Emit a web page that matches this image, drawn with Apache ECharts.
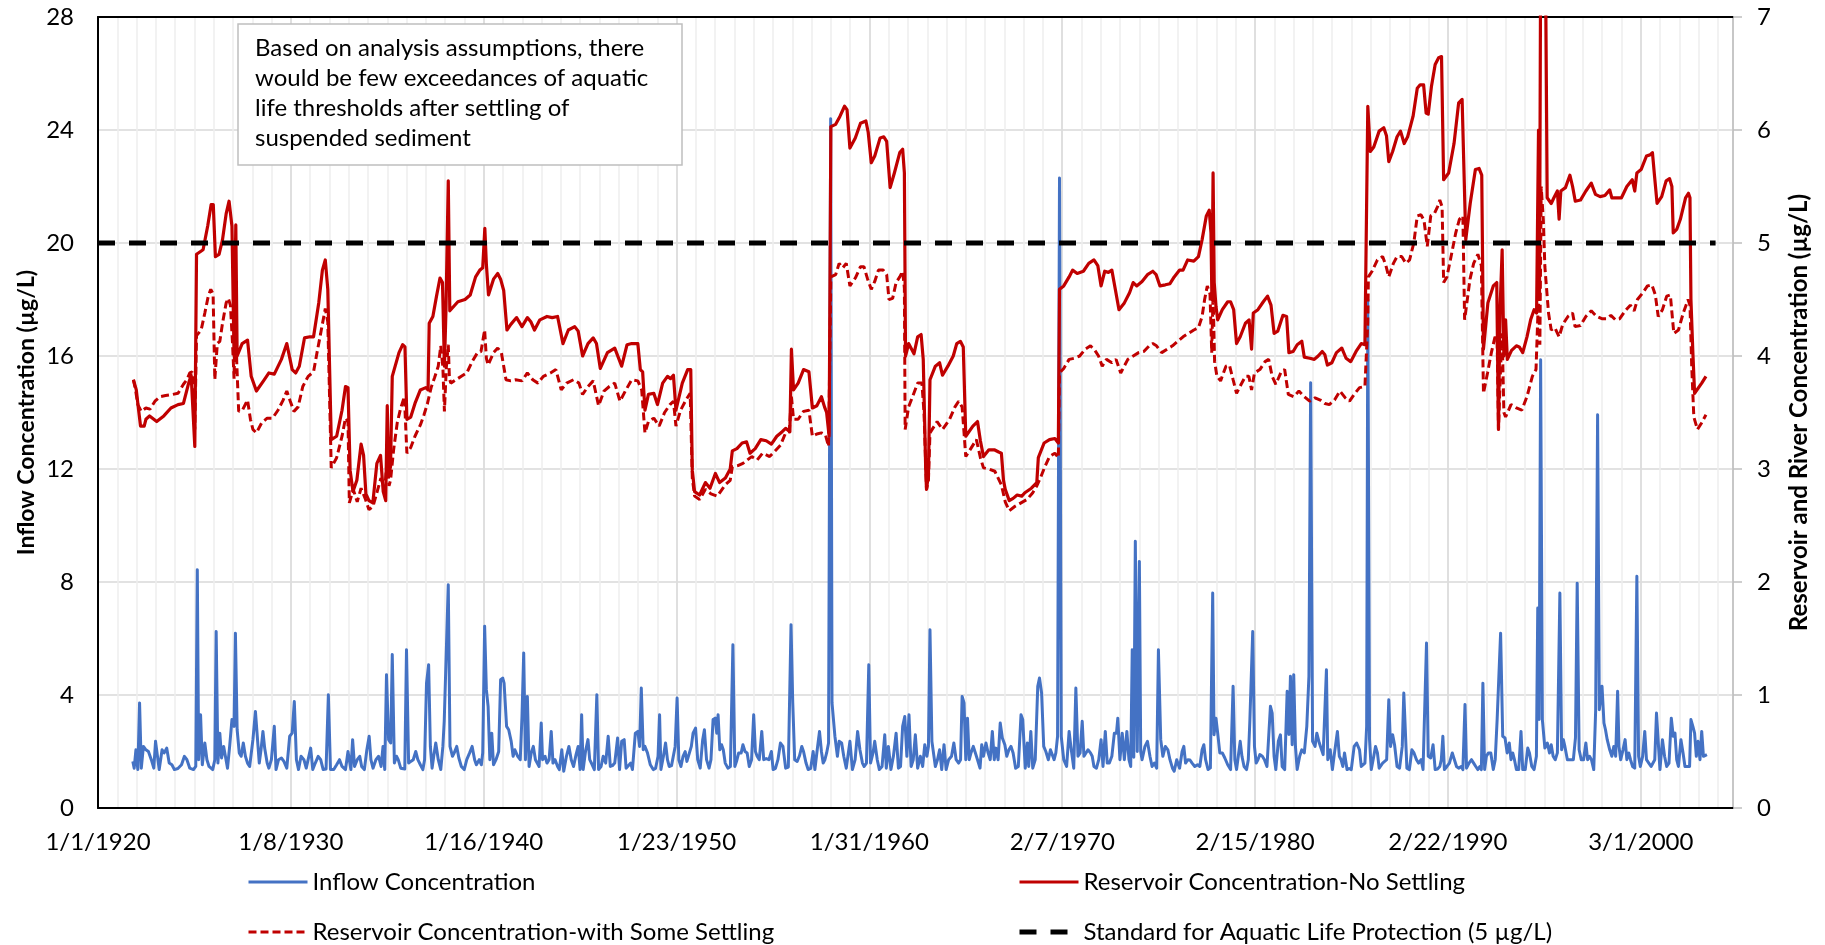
<!DOCTYPE html>
<html><head><meta charset="utf-8">
<script src="https://cdn.jsdelivr.net/npm/echarts@6/dist/echarts.min.js"></script>
<style>html,body{margin:0;padding:0;background:#fff;}#chart{width:1825px;height:945px;}</style>
</head><body><div id="chart"></div>
<script>
// ---- x-axis (days since 1/1/1920) ----
const axisStartYear = 1920;
const majorIntervalDays = 3660;
const minorIntervalDays = 366;
const axisMaxDays = 31030;

// ---- left axis ticks ----
const leftAxisMin = 0, leftAxisMax = 28, leftAxisStep = 4;
// ---- right axis ticks ----
const rightAxisMin = 0, rightAxisMax = 7, rightAxisStep = 1;

const seriesNames = ['Inflow Concentration','Reservoir Concentration-No Settling','Reservoir Concentration-with Some Settling','Standard for Aquatic Life Protection (5 µg/L)'];
const leftAxisTitle = 'Inflow Concentration (µg/L)';
const rightAxisTitle = 'Reservoir and River Concentration (µg/L)';
const noteLines = ['Based on analysis assumptions, there','would be few exceedances of aquatic','life thresholds after settling of','suspended sediment'];

// standard line (right axis value) and its date span (decimal years)
const standardValue = 5;
const standardSpan = [1920.0, 2004.05];

// Inflow concentration [decimal year, µg/L]  (left axis)
const inflow = [[1921.81,1.65],[1921.88,1.41],[1921.97,2.06],[1922.07,1.36],[1922.16,3.72],[1922.25,1.41],[1922.36,2.18],[1922.49,2.06],[1922.62,2.0],[1922.77,1.71],[1922.9,1.41],[1922.99,2.36],[1923.09,2.42],[1923.18,1.36],[1923.33,2.06],[1923.44,1.95],[1923.57,2.12],[1923.7,1.59],[1923.84,1.53],[1923.97,1.36],[1924.15,1.4],[1924.34,1.53],[1924.49,1.83],[1924.62,1.71],[1924.77,1.41],[1924.96,1.36],[1925.08,1.47],[1925.16,8.43],[1925.23,1.71],[1925.33,3.3],[1925.42,1.53],[1925.55,2.3],[1925.66,1.71],[1925.77,1.47],[1925.96,1.36],[1926.07,1.71],[1926.14,6.25],[1926.23,1.59],[1926.33,2.65],[1926.42,1.77],[1926.53,2.18],[1926.62,1.83],[1926.73,1.41],[1926.84,2.18],[1926.96,3.13],[1927.07,2.89],[1927.14,6.19],[1927.23,2.77],[1927.34,1.95],[1927.44,1.83],[1927.55,2.3],[1927.66,1.83],[1927.77,1.59],[1927.88,1.47],[1928.05,2.42],[1928.18,3.42],[1928.27,3.36],[1928.38,1.59],[1928.47,2.06],[1928.57,2.71],[1928.66,2.12],[1928.79,1.59],[1928.88,1.41],[1929.01,1.71],[1929.16,2.89],[1929.25,1.36],[1929.38,1.71],[1929.53,1.77],[1929.66,1.65],[1929.81,1.41],[1929.96,2.54],[1930.09,2.65],[1930.2,3.77],[1930.31,1.71],[1930.42,1.36],[1930.55,1.83],[1930.7,1.71],[1930.82,1.41],[1930.92,1.36],[1931.05,2.12],[1931.16,1.36],[1931.29,1.59],[1931.44,1.83],[1931.57,1.71],[1931.7,1.36],[1931.85,1.38],[1931.97,4.01],[1932.08,1.36],[1932.25,1.36],[1932.4,1.53],[1932.55,1.71],[1932.68,1.47],[1932.86,1.36],[1932.99,2.0],[1933.06,2.0],[1933.14,1.36],[1933.23,2.42],[1933.33,1.47],[1933.47,1.71],[1933.6,1.83],[1933.7,1.47],[1933.84,1.36],[1933.97,2.06],[1934.09,2.54],[1934.18,1.71],[1934.29,1.41],[1934.44,1.71],[1934.58,1.83],[1934.71,1.47],[1934.81,2.18],[1934.9,1.36],[1934.99,4.72],[1935.1,2.42],[1935.21,2.3],[1935.29,5.43],[1935.4,1.59],[1935.51,1.83],[1935.6,1.71],[1935.73,1.41],[1935.83,1.36],[1935.94,1.38],[1936.03,5.6],[1936.14,1.59],[1936.25,1.65],[1936.38,1.71],[1936.51,2.0],[1936.62,1.71],[1936.75,1.53],[1936.88,1.36],[1936.97,1.71],[1937.07,4.42],[1937.18,5.07],[1937.27,2.18],[1937.36,1.41],[1937.47,1.95],[1937.55,2.3],[1937.68,1.71],[1937.81,1.36],[1937.92,2.18],[1937.99,3.07],[1938.08,3.13],[1938.2,7.9],[1938.29,2.18],[1938.42,1.83],[1938.51,1.95],[1938.64,2.18],[1938.75,1.77],[1938.88,1.47],[1939.03,1.36],[1939.16,1.71],[1939.31,1.95],[1939.44,2.18],[1939.57,1.71],[1939.66,1.53],[1939.81,1.71],[1939.92,1.53],[1939.99,1.95],[1940.09,6.43],[1940.18,4.19],[1940.27,3.6],[1940.36,1.71],[1940.46,2.65],[1940.55,1.53],[1940.68,1.71],[1940.82,2.0],[1940.92,4.54],[1941.03,4.6],[1941.1,4.42],[1941.23,2.89],[1941.34,2.77],[1941.47,2.36],[1941.57,1.83],[1941.66,2.06],[1941.81,1.83],[1941.94,1.71],[1942.03,3.24],[1942.12,5.49],[1942.21,1.71],[1942.31,3.95],[1942.4,1.47],[1942.51,1.95],[1942.62,2.18],[1942.73,1.71],[1942.82,1.65],[1942.92,1.47],[1943.03,3.01],[1943.1,1.71],[1943.23,1.83],[1943.33,1.59],[1943.44,1.71],[1943.55,2.71],[1943.64,1.59],[1943.75,1.71],[1943.88,1.47],[1943.97,1.36],[1944.1,2.06],[1944.2,1.3],[1944.34,1.83],[1944.47,2.18],[1944.59,1.71],[1944.71,1.47],[1944.84,1.89],[1944.95,2.18],[1945.05,1.36],[1945.13,3.3],[1945.21,1.36],[1945.33,2.0],[1945.46,2.42],[1945.55,1.71],[1945.68,1.53],[1945.79,1.36],[1945.92,4.01],[1946.01,1.36],[1946.14,1.47],[1946.25,1.83],[1946.38,1.59],[1946.51,2.54],[1946.62,1.47],[1946.73,1.5],[1946.85,1.59],[1947.0,2.48],[1947.1,1.36],[1947.21,2.36],[1947.34,2.42],[1947.44,1.41],[1947.53,1.47],[1947.68,1.59],[1947.77,1.36],[1947.92,2.65],[1948.05,2.71],[1948.14,2.18],[1948.23,4.25],[1948.33,2.06],[1948.42,2.18],[1948.55,1.95],[1948.7,1.53],[1948.85,1.36],[1948.97,1.4],[1949.1,1.83],[1949.18,3.3],[1949.25,1.36],[1949.38,1.83],[1949.49,2.3],[1949.59,1.71],[1949.68,1.47],[1949.8,1.5],[1949.9,1.53],[1949.99,2.18],[1950.09,3.89],[1950.18,1.71],[1950.29,1.47],[1950.4,1.83],[1950.51,2.0],[1950.6,1.65],[1950.7,1.59],[1950.83,2.18],[1950.92,2.65],[1951.05,2.83],[1951.16,1.71],[1951.29,1.41],[1951.42,2.42],[1951.51,2.77],[1951.62,1.71],[1951.75,1.41],[1951.85,1.71],[1951.96,3.13],[1952.07,3.18],[1952.15,2.65],[1952.22,3.3],[1952.31,2.06],[1952.4,2.24],[1952.49,2.06],[1952.59,1.59],[1952.73,1.41],[1952.86,1.47],[1952.99,5.78],[1953.09,1.47],[1953.18,1.65],[1953.29,1.95],[1953.42,1.95],[1953.51,2.24],[1953.62,2.0],[1953.73,1.95],[1953.84,1.47],[1953.96,1.71],[1954.07,3.3],[1954.16,2.0],[1954.25,1.83],[1954.36,1.71],[1954.49,2.71],[1954.59,1.71],[1954.72,1.75],[1954.86,1.71],[1954.99,2.0],[1955.08,1.36],[1955.2,1.4],[1955.33,1.71],[1955.46,2.3],[1955.59,2.18],[1955.73,1.41],[1955.87,1.45],[1956.01,6.49],[1956.1,3.72],[1956.2,1.71],[1956.33,1.65],[1956.45,1.85],[1956.57,2.18],[1956.66,2.0],[1956.79,1.59],[1956.9,1.36],[1957.03,1.4],[1957.16,2.0],[1957.25,1.36],[1957.36,2.0],[1957.49,2.71],[1957.59,2.0],[1957.68,1.59],[1957.77,1.71],[1957.86,1.95],[1957.96,2.3],[1958.07,24.4],[1958.14,3.72],[1958.29,2.54],[1958.42,1.83],[1958.51,2.36],[1958.64,2.3],[1958.75,1.83],[1958.88,1.41],[1958.97,1.36],[1959.07,2.36],[1959.2,1.36],[1959.34,1.71],[1959.47,2.71],[1959.59,2.06],[1959.72,1.59],[1959.81,1.47],[1959.93,1.59],[1960.05,5.07],[1960.14,1.59],[1960.27,1.95],[1960.36,2.36],[1960.49,1.71],[1960.6,1.36],[1960.74,1.47],[1960.88,2.59],[1960.96,1.41],[1961.07,2.18],[1961.2,1.36],[1961.33,1.83],[1961.47,2.65],[1961.59,1.41],[1961.7,1.47],[1961.81,2.89],[1961.92,3.24],[1962.03,1.83],[1962.14,3.3],[1962.25,1.47],[1962.36,1.71],[1962.47,2.59],[1962.59,1.41],[1962.73,1.83],[1962.85,1.47],[1962.96,2.24],[1963.07,1.83],[1963.15,2.18],[1963.23,6.31],[1963.33,2.36],[1963.42,2.42],[1963.51,1.47],[1963.62,1.71],[1963.73,2.06],[1963.84,1.36],[1963.96,2.24],[1964.07,1.36],[1964.2,1.71],[1964.35,1.83],[1964.47,2.3],[1964.59,1.71],[1964.72,1.59],[1964.82,1.71],[1964.9,3.95],[1965.0,3.72],[1965.09,1.71],[1965.18,3.18],[1965.27,1.71],[1965.36,1.95],[1965.48,2.18],[1965.59,1.95],[1965.7,1.71],[1965.83,1.41],[1965.92,2.24],[1966.01,1.83],[1966.14,2.3],[1966.25,1.95],[1966.36,1.71],[1966.47,2.71],[1966.57,1.71],[1966.66,2.12],[1966.77,1.71],[1966.88,3.01],[1966.99,2.48],[1967.12,2.24],[1967.22,1.83],[1967.33,2.06],[1967.44,2.18],[1967.55,1.95],[1967.68,1.41],[1967.82,1.47],[1967.96,3.3],[1968.05,3.13],[1968.18,1.41],[1968.29,2.3],[1968.36,1.47],[1968.47,2.71],[1968.57,1.41],[1968.7,1.71],[1968.83,4.31],[1968.92,4.6],[1969.03,4.07],[1969.14,2.18],[1969.25,2.0],[1969.38,1.71],[1969.49,2.06],[1969.58,2.06],[1969.68,1.71],[1969.77,1.95],[1969.86,2.54],[1969.96,22.3],[1970.05,2.54],[1970.18,1.71],[1970.33,1.47],[1970.46,2.71],[1970.55,2.18],[1970.7,1.41],[1970.81,4.25],[1970.92,1.83],[1971.03,1.95],[1971.14,3.07],[1971.23,1.83],[1971.33,1.83],[1971.44,2.06],[1971.57,1.95],[1971.66,1.83],[1971.75,1.47],[1971.88,1.41],[1972.0,1.71],[1972.12,2.42],[1972.22,1.47],[1972.34,2.71],[1972.44,1.59],[1972.55,1.59],[1972.68,1.83],[1972.81,2.65],[1972.92,2.65],[1972.99,3.18],[1973.1,1.71],[1973.22,2.65],[1973.33,1.71],[1973.46,2.71],[1973.57,1.71],[1973.66,1.47],[1973.74,5.6],[1973.82,1.8],[1973.9,9.44],[1974.0,2.0],[1974.11,8.73],[1974.18,2.0],[1974.25,1.71],[1974.4,2.18],[1974.53,2.36],[1974.66,1.83],[1974.77,1.47],[1974.89,1.59],[1975.01,1.41],[1975.1,5.6],[1975.22,2.42],[1975.33,1.83],[1975.46,2.18],[1975.59,2.06],[1975.7,1.71],[1975.83,1.41],[1975.92,1.3],[1976.05,1.71],[1976.2,1.41],[1976.33,2.0],[1976.42,2.18],[1976.51,1.59],[1976.63,1.71],[1976.74,1.7],[1976.85,1.59],[1976.99,1.47],[1977.13,1.53],[1977.25,1.47],[1977.37,2.06],[1977.46,2.24],[1977.55,1.71],[1977.68,1.36],[1977.8,1.42],[1977.92,7.61],[1977.99,2.59],[1978.09,3.18],[1978.18,2.65],[1978.29,1.95],[1978.42,1.95],[1978.55,1.77],[1978.7,1.53],[1978.85,1.36],[1978.98,4.31],[1979.07,1.71],[1979.16,1.36],[1979.25,1.83],[1979.35,2.36],[1979.44,1.83],[1979.55,1.47],[1979.68,1.36],[1979.77,1.71],[1979.85,3.07],[1979.92,3.07],[1980.0,6.25],[1980.09,2.18],[1980.18,1.59],[1980.27,1.71],[1980.37,1.89],[1980.5,1.83],[1980.61,1.71],[1980.74,1.47],[1980.83,1.41],[1980.92,3.6],[1981.01,3.36],[1981.11,1.83],[1981.2,1.36],[1981.33,2.36],[1981.44,2.59],[1981.53,1.47],[1981.66,1.36],[1981.79,4.13],[1981.88,2.6],[1981.96,4.66],[1982.05,2.24],[1982.13,4.72],[1982.22,2.18],[1982.31,1.36],[1982.44,1.83],[1982.55,2.06],[1982.68,1.95],[1982.81,2.89],[1982.92,4.66],[1983.01,15.05],[1983.11,2.36],[1983.24,2.18],[1983.33,2.65],[1983.46,2.3],[1983.55,2.24],[1983.66,1.89],[1983.75,1.83],[1983.83,4.89],[1983.9,1.71],[1984.03,2.06],[1984.14,1.36],[1984.25,1.95],[1984.4,2.71],[1984.5,1.83],[1984.59,1.71],[1984.68,1.47],[1984.77,1.95],[1984.9,1.36],[1985.01,1.4],[1985.12,1.36],[1985.27,2.18],[1985.4,2.3],[1985.55,2.06],[1985.64,1.47],[1985.74,1.41],[1985.83,1.59],[1985.92,2.89],[1985.98,18.0],[1986.07,2.42],[1986.16,1.36],[1986.29,1.83],[1986.38,2.18],[1986.48,1.95],[1986.57,1.41],[1986.66,1.45],[1986.75,1.59],[1986.85,1.59],[1986.96,1.71],[1987.07,3.83],[1987.16,2.18],[1987.27,2.59],[1987.37,2.24],[1987.5,1.47],[1987.63,1.41],[1987.77,2.18],[1987.85,4.07],[1987.92,4.07],[1988.01,1.41],[1988.14,1.36],[1988.27,2.06],[1988.38,1.95],[1988.51,1.71],[1988.62,1.59],[1988.75,1.71],[1988.85,1.36],[1988.94,1.38],[1989.03,5.84],[1989.12,1.83],[1989.25,1.77],[1989.37,2.24],[1989.48,1.36],[1989.6,1.38],[1989.72,1.47],[1989.8,1.71],[1989.88,2.54],[1989.96,1.36],[1990.09,1.47],[1990.22,1.59],[1990.37,1.95],[1990.48,1.71],[1990.59,1.47],[1990.7,1.41],[1990.83,1.47],[1990.92,1.36],[1991.03,3.66],[1991.11,1.41],[1991.24,1.59],[1991.37,1.71],[1991.48,1.59],[1991.59,1.47],[1991.7,1.36],[1991.8,1.47],[1991.88,1.36],[1991.96,4.42],[1992.05,1.36],[1992.14,1.83],[1992.25,1.95],[1992.37,1.95],[1992.5,1.36],[1992.6,1.71],[1992.7,3.13],[1992.78,3.13],[1992.88,6.19],[1992.99,2.54],[1993.11,2.48],[1993.22,1.95],[1993.33,2.3],[1993.42,1.71],[1993.51,1.95],[1993.6,1.71],[1993.7,1.36],[1993.82,1.36],[1993.94,2.71],[1994.03,1.36],[1994.16,1.36],[1994.29,2.12],[1994.38,1.95],[1994.5,1.47],[1994.62,1.36],[1994.74,1.83],[1994.81,7.08],[1994.88,3.13],[1994.96,15.87],[1995.05,3.13],[1995.18,2.12],[1995.31,2.3],[1995.42,1.95],[1995.51,2.24],[1995.61,1.83],[1995.72,1.71],[1995.83,1.95],[1995.96,7.61],[1996.05,2.06],[1996.14,2.42],[1996.22,2.18],[1996.35,1.71],[1996.44,1.77],[1996.53,1.71],[1996.66,1.71],[1996.77,2.48],[1996.86,7.96],[1996.96,2.06],[1997.07,1.71],[1997.19,1.71],[1997.31,2.3],[1997.4,1.71],[1997.5,1.83],[1997.6,1.71],[1997.72,1.36],[1997.82,3.48],[1997.92,13.92],[1998.01,3.48],[1998.15,4.31],[1998.25,3.01],[1998.33,2.77],[1998.42,2.42],[1998.55,2.06],[1998.66,1.83],[1998.76,2.18],[1998.86,1.83],[1998.96,4.13],[1999.03,2.18],[1999.12,1.71],[1999.24,2.06],[1999.35,2.42],[1999.44,1.71],[1999.54,1.95],[1999.63,1.71],[1999.74,1.47],[1999.85,1.41],[1999.96,8.2],[2000.05,1.83],[2000.14,1.47],[2000.26,1.83],[2000.37,2.71],[2000.46,1.71],[2000.58,1.59],[2000.7,1.47],[2000.8,1.47],[2000.89,1.71],[2000.98,3.36],[2001.07,3.42],[2001.16,1.36],[2001.29,2.42],[2001.4,1.83],[2001.51,1.47],[2001.63,1.59],[2001.75,3.18],[2001.85,2.54],[2001.94,2.65],[2002.03,1.71],[2002.12,1.47],[2002.25,2.42],[2002.36,1.95],[2002.46,1.47],[2002.58,1.47],[2002.7,1.47],[2002.77,3.13],[2002.87,2.89],[2002.96,2.65],[2003.05,1.83],[2003.14,2.36],[2003.24,1.71],[2003.33,2.71],[2003.42,1.83],[2003.51,1.89],[2003.6,1.89]];

// Reservoir concentration, no settling [decimal year, µg/L]  (right axis)
const noSettling = [[1921.84,3.79],[1921.99,3.7],[1922.09,3.55],[1922.21,3.38],[1922.4,3.38],[1922.49,3.44],[1922.68,3.47],[1922.77,3.48],[1923.05,3.42],[1923.42,3.47],[1923.79,3.54],[1924.16,3.57],[1924.44,3.58],[1924.71,3.76],[1924.84,3.83],[1925.03,3.2],[1925.12,4.9],[1925.46,4.94],[1925.7,5.15],[1925.88,5.34],[1925.99,5.34],[1926.1,4.88],[1926.29,4.9],[1926.47,5.03],[1926.66,5.26],[1926.81,5.37],[1926.96,5.15],[1927.07,4.0],[1927.16,5.16],[1927.23,4.0],[1927.49,4.11],[1927.77,4.14],[1927.96,3.82],[1928.23,3.69],[1928.6,3.78],[1928.88,3.85],[1929.16,3.84],[1929.53,3.97],[1929.81,4.11],[1930.09,3.88],[1930.27,3.85],[1930.46,3.91],[1930.73,4.16],[1931.01,4.17],[1931.2,4.17],[1931.47,4.47],[1931.66,4.76],[1931.81,4.85],[1931.94,4.59],[1932.12,3.26],[1932.4,3.29],[1932.68,3.52],[1932.86,3.73],[1932.99,3.72],[1933.1,2.99],[1933.25,2.8],[1933.45,2.9],[1933.67,3.22],[1933.8,3.12],[1933.92,2.78],[1934.08,2.72],[1934.28,2.7],[1934.49,3.05],[1934.68,3.12],[1934.82,2.8],[1934.95,2.72],[1935.03,3.56],[1935.1,2.95],[1935.2,3.02],[1935.29,3.82],[1935.64,4.03],[1935.83,4.1],[1935.95,4.08],[1936.05,3.44],[1936.25,3.46],[1936.47,3.58],[1936.75,3.7],[1937.03,3.72],[1937.15,3.7],[1937.21,4.29],[1937.4,4.35],[1937.59,4.53],[1937.77,4.69],[1937.9,4.65],[1938.0,3.91],[1938.08,4.4],[1938.2,5.55],[1938.28,4.4],[1938.33,4.41],[1938.7,4.48],[1939.07,4.5],[1939.34,4.54],[1939.62,4.7],[1939.84,4.76],[1939.99,4.78],[1940.1,5.13],[1940.18,4.81],[1940.29,4.54],[1940.55,4.68],[1940.77,4.73],[1940.92,4.68],[1941.08,4.58],[1941.25,4.23],[1941.45,4.28],[1941.75,4.34],[1942.03,4.26],[1942.31,4.34],[1942.5,4.3],[1942.68,4.23],[1942.96,4.32],[1943.33,4.35],[1943.6,4.34],[1943.88,4.35],[1944.16,4.11],[1944.44,4.23],[1944.77,4.26],[1944.95,4.22],[1945.18,4.0],[1945.46,4.11],[1945.73,4.16],[1945.9,4.11],[1946.1,3.89],[1946.47,4.03],[1946.85,4.07],[1947.21,3.91],[1947.49,4.1],[1947.73,4.11],[1948.05,4.11],[1948.18,3.88],[1948.3,3.86],[1948.42,3.52],[1948.6,3.66],[1948.88,3.67],[1949.07,3.57],[1949.34,3.76],[1949.59,3.82],[1949.75,3.8],[1949.9,3.83],[1950.03,3.52],[1950.36,3.76],[1950.64,3.88],[1950.8,3.88],[1950.88,2.99],[1951.0,2.8],[1951.26,2.77],[1951.56,2.88],[1951.8,2.83],[1952.08,2.96],[1952.3,2.88],[1952.6,2.92],[1952.85,3.0],[1952.96,3.16],[1953.2,3.18],[1953.47,3.23],[1953.7,3.24],[1953.88,3.14],[1954.15,3.18],[1954.44,3.26],[1954.72,3.25],[1954.99,3.22],[1955.27,3.29],[1955.55,3.33],[1955.73,3.36],[1955.95,3.33],[1956.03,4.06],[1956.14,3.7],[1956.38,3.76],[1956.66,3.88],[1956.94,3.86],[1957.12,3.54],[1957.35,3.56],[1957.59,3.64],[1957.75,3.55],[1957.86,3.5],[1957.99,3.29],[1958.08,6.03],[1958.33,6.05],[1958.55,6.12],[1958.79,6.21],[1958.92,6.18],[1959.07,5.84],[1959.35,5.93],[1959.62,6.06],[1959.9,6.08],[1960.02,5.98],[1960.18,5.71],[1960.36,5.77],[1960.64,5.93],[1960.83,5.94],[1960.98,5.9],[1961.16,5.49],[1961.38,5.62],[1961.66,5.8],[1961.81,5.83],[1961.9,5.62],[1961.96,4.0],[1962.12,4.11],[1962.4,4.02],[1962.59,4.17],[1962.77,4.19],[1962.88,3.97],[1963.01,2.99],[1963.05,2.82],[1963.15,2.95],[1963.23,3.79],[1963.51,3.91],[1963.73,3.94],[1963.88,3.83],[1964.16,3.91],[1964.44,4.0],[1964.62,4.11],[1964.81,4.13],[1964.96,4.08],[1965.09,3.29],[1965.46,3.38],[1965.7,3.42],[1965.85,3.25],[1966.01,3.11],[1966.29,3.17],[1966.57,3.17],[1966.8,3.15],[1966.94,3.14],[1967.05,2.9],[1967.14,2.82],[1967.35,2.72],[1967.55,2.74],[1967.76,2.77],[1968.0,2.76],[1968.16,2.79],[1968.5,2.83],[1968.78,2.88],[1968.86,3.1],[1969.16,3.23],[1969.44,3.26],[1969.72,3.27],[1969.9,3.23],[1969.96,4.59],[1970.18,4.62],[1970.46,4.7],[1970.64,4.76],[1970.88,4.73],[1971.2,4.75],[1971.48,4.82],[1971.75,4.85],[1971.95,4.8],[1972.12,4.62],[1972.31,4.75],[1972.5,4.74],[1972.68,4.76],[1972.86,4.59],[1973.05,4.41],[1973.33,4.47],[1973.6,4.56],[1973.79,4.65],[1973.97,4.62],[1974.25,4.66],[1974.53,4.72],[1974.81,4.75],[1974.98,4.72],[1975.18,4.62],[1975.46,4.63],[1975.7,4.64],[1975.92,4.7],[1976.2,4.76],[1976.38,4.76],[1976.62,4.85],[1976.94,4.84],[1977.18,4.88],[1977.37,5.03],[1977.59,5.24],[1977.74,5.29],[1977.83,5.09],[1977.88,4.5],[1977.94,5.62],[1978.0,4.65],[1978.09,4.44],[1978.18,4.32],[1978.42,4.41],[1978.7,4.48],[1978.85,4.48],[1979.01,4.41],[1979.16,4.11],[1979.35,4.17],[1979.62,4.29],[1979.81,4.32],[1979.94,4.06],[1980.03,4.38],[1980.27,4.41],[1980.55,4.48],[1980.77,4.53],[1980.95,4.45],[1981.11,4.2],[1981.3,4.22],[1981.57,4.36],[1981.76,4.35],[1981.88,4.03],[1982.1,4.04],[1982.31,4.1],[1982.55,4.13],[1982.68,3.99],[1982.96,3.98],[1983.2,3.97],[1983.4,4.0],[1983.61,4.04],[1983.75,4.01],[1983.88,3.92],[1984.11,3.94],[1984.35,4.03],[1984.63,4.07],[1984.85,3.98],[1985.09,3.95],[1985.37,4.04],[1985.64,4.11],[1985.83,4.1],[1985.98,6.21],[1986.11,5.81],[1986.29,5.85],[1986.57,5.99],[1986.81,6.02],[1986.95,5.95],[1987.07,5.72],[1987.27,5.81],[1987.5,5.94],[1987.68,5.99],[1987.87,5.88],[1988.05,5.94],[1988.33,6.12],[1988.55,6.37],[1988.7,6.4],[1988.88,6.4],[1989.01,6.15],[1989.12,6.14],[1989.29,6.39],[1989.48,6.58],[1989.66,6.64],[1989.81,6.65],[1989.92,5.56],[1990.18,5.62],[1990.46,5.88],[1990.7,6.24],[1990.88,6.27],[1990.98,6.26],[1991.07,5.03],[1991.3,5.35],[1991.57,5.65],[1991.76,5.66],[1991.9,5.6],[1991.99,4.06],[1992.22,4.47],[1992.5,4.62],[1992.68,4.65],[1992.77,3.35],[1992.85,4.4],[1992.96,4.94],[1993.05,4.0],[1993.14,4.32],[1993.23,3.97],[1993.45,4.05],[1993.7,4.09],[1993.85,4.08],[1994.03,4.03],[1994.25,4.17],[1994.44,4.32],[1994.62,4.41],[1994.75,4.38],[1994.85,6.0],[1994.9,4.5],[1994.96,7.5],[1995.1,7.8],[1995.22,7.3],[1995.3,5.4],[1995.51,5.35],[1995.65,5.4],[1995.83,5.46],[1995.92,5.21],[1996.01,5.46],[1996.25,5.49],[1996.48,5.6],[1996.62,5.5],[1996.76,5.37],[1997.03,5.38],[1997.31,5.46],[1997.59,5.53],[1997.81,5.43],[1998.05,5.41],[1998.3,5.42],[1998.55,5.47],[1998.66,5.4],[1998.92,5.4],[1999.16,5.4],[1999.44,5.5],[1999.72,5.56],[1999.85,5.46],[1999.96,5.62],[2000.18,5.65],[2000.46,5.77],[2000.64,5.78],[2000.77,5.8],[2000.88,5.59],[2001.01,5.35],[2001.25,5.41],[2001.48,5.55],[2001.66,5.57],[2001.78,5.5],[2001.85,5.09],[2002.03,5.12],[2002.22,5.21],[2002.49,5.4],[2002.64,5.44],[2002.72,5.4],[2002.77,4.5],[2002.87,4.03],[2002.96,3.67],[2003.05,3.66],[2003.33,3.76],[2003.55,3.82]];

// Reservoir concentration, with some settling [decimal year, µg/L]  (right axis)
const someSettling = [[1921.84,3.79],[1921.95,3.7],[1922.07,3.57],[1922.25,3.51],[1922.49,3.54],[1922.7,3.53],[1922.96,3.6],[1923.23,3.64],[1923.51,3.65],[1923.88,3.66],[1924.16,3.67],[1924.44,3.75],[1924.62,3.79],[1924.77,3.85],[1924.9,3.86],[1925.03,3.35],[1925.12,4.18],[1925.36,4.23],[1925.55,4.38],[1925.73,4.53],[1925.86,4.59],[1925.98,4.55],[1926.07,3.79],[1926.2,4.11],[1926.33,4.13],[1926.47,4.29],[1926.66,4.47],[1926.77,4.51],[1926.88,4.45],[1926.99,4.11],[1927.07,3.8],[1927.14,4.45],[1927.21,3.94],[1927.31,3.51],[1927.5,3.52],[1927.77,3.61],[1927.92,3.44],[1928.05,3.35],[1928.23,3.32],[1928.51,3.41],[1928.79,3.45],[1929.07,3.45],[1929.35,3.52],[1929.62,3.61],[1929.81,3.69],[1929.99,3.6],[1930.18,3.51],[1930.4,3.55],[1930.64,3.73],[1930.92,3.82],[1931.2,3.86],[1931.38,4.03],[1931.57,4.2],[1931.81,4.42],[1931.94,4.3],[1932.12,3.01],[1932.4,3.1],[1932.68,3.29],[1932.86,3.45],[1932.99,3.42],[1933.06,2.7],[1933.26,2.82],[1933.47,2.71],[1933.67,2.83],[1933.88,2.74],[1934.08,2.64],[1934.29,2.67],[1934.49,2.79],[1934.7,2.92],[1934.9,2.82],[1935.03,3.1],[1935.12,2.85],[1935.2,2.9],[1935.36,3.17],[1935.55,3.41],[1935.73,3.54],[1935.92,3.64],[1936.05,3.14],[1936.25,3.19],[1936.47,3.29],[1936.75,3.39],[1936.94,3.48],[1937.12,3.58],[1937.31,3.72],[1937.49,3.81],[1937.68,3.91],[1937.81,4.09],[1937.92,3.9],[1938.0,3.51],[1938.1,3.9],[1938.2,4.1],[1938.26,3.8],[1938.33,3.76],[1938.6,3.79],[1938.88,3.82],[1939.16,3.85],[1939.44,3.95],[1939.72,4.03],[1939.9,4.04],[1940.09,4.23],[1940.18,3.98],[1940.27,3.92],[1940.55,4.03],[1940.77,4.07],[1940.96,4.03],[1941.2,3.79],[1941.45,3.78],[1941.7,3.79],[1942.03,3.78],[1942.31,3.85],[1942.59,3.79],[1942.86,3.76],[1943.14,3.82],[1943.51,3.85],[1943.79,3.88],[1944.07,3.7],[1944.35,3.76],[1944.71,3.79],[1944.99,3.76],[1945.18,3.66],[1945.46,3.73],[1945.73,3.78],[1946.01,3.56],[1946.29,3.69],[1946.57,3.73],[1946.85,3.76],[1947.12,3.6],[1947.4,3.69],[1947.73,3.79],[1948.05,3.78],[1948.25,3.7],[1948.42,3.32],[1948.6,3.42],[1948.88,3.45],[1949.16,3.38],[1949.44,3.5],[1949.72,3.57],[1949.9,3.6],[1950.03,3.38],[1950.27,3.52],[1950.55,3.61],[1950.77,3.67],[1950.88,2.92],[1951.0,2.76],[1951.26,2.73],[1951.56,2.82],[1951.85,2.78],[1952.18,2.76],[1952.59,2.86],[1952.85,2.9],[1952.96,3.02],[1953.25,3.03],[1953.51,3.05],[1953.97,3.11],[1954.25,3.08],[1954.53,3.14],[1954.9,3.11],[1955.18,3.16],[1955.46,3.21],[1955.73,3.32],[1955.92,3.33],[1956.03,3.64],[1956.14,3.44],[1956.38,3.44],[1956.66,3.51],[1956.94,3.52],[1957.12,3.29],[1957.35,3.31],[1957.59,3.32],[1957.8,3.3],[1957.96,3.2],[1958.08,4.7],[1958.33,4.72],[1958.51,4.82],[1958.7,4.78],[1958.88,4.82],[1959.07,4.62],[1959.35,4.69],[1959.62,4.79],[1959.8,4.79],[1959.99,4.68],[1960.18,4.59],[1960.36,4.66],[1960.55,4.76],[1960.8,4.76],[1960.98,4.72],[1961.1,4.5],[1961.29,4.51],[1961.47,4.65],[1961.66,4.7],[1961.81,4.75],[1961.9,4.6],[1961.94,3.35],[1962.12,3.55],[1962.35,3.65],[1962.59,3.76],[1962.81,3.76],[1962.92,3.5],[1963.05,2.82],[1963.15,2.9],[1963.23,3.32],[1963.6,3.42],[1963.88,3.35],[1964.25,3.44],[1964.53,3.55],[1964.72,3.6],[1964.9,3.55],[1965.09,3.11],[1965.35,3.18],[1965.64,3.26],[1965.85,3.1],[1966.01,3.01],[1966.3,3.0],[1966.6,2.98],[1966.94,2.86],[1967.14,2.71],[1967.35,2.63],[1967.65,2.67],[1967.96,2.7],[1968.27,2.73],[1968.57,2.79],[1968.78,2.85],[1968.99,2.93],[1969.2,3.02],[1969.44,3.11],[1969.72,3.14],[1969.9,3.1],[1969.96,3.85],[1970.18,3.89],[1970.46,3.97],[1970.73,3.98],[1971.01,4.0],[1971.29,4.06],[1971.57,4.09],[1971.8,4.05],[1971.99,4.0],[1972.18,3.91],[1972.4,3.97],[1972.68,3.94],[1972.9,3.97],[1973.14,3.85],[1973.51,3.97],[1973.79,4.0],[1974.07,4.03],[1974.34,4.04],[1974.62,4.09],[1974.81,4.11],[1975.0,4.09],[1975.27,4.03],[1975.55,4.06],[1975.83,4.09],[1976.1,4.13],[1976.38,4.17],[1976.66,4.2],[1976.94,4.23],[1977.18,4.25],[1977.37,4.35],[1977.5,4.5],[1977.64,4.62],[1977.78,4.55],[1977.87,4.03],[1977.94,4.55],[1978.02,3.95],[1978.14,3.82],[1978.33,3.78],[1978.61,3.91],[1978.79,3.92],[1978.98,3.79],[1979.16,3.67],[1979.4,3.75],[1979.62,3.82],[1979.8,3.82],[1979.94,3.7],[1980.09,3.85],[1980.37,3.88],[1980.64,3.95],[1980.83,3.97],[1981.01,3.82],[1981.2,3.75],[1981.48,3.86],[1981.66,3.88],[1981.85,3.66],[1982.13,3.64],[1982.4,3.69],[1982.68,3.64],[1982.96,3.6],[1983.24,3.63],[1983.51,3.61],[1983.75,3.58],[1983.98,3.57],[1984.25,3.61],[1984.53,3.69],[1984.81,3.63],[1985.03,3.6],[1985.27,3.66],[1985.55,3.72],[1985.83,3.73],[1985.98,4.3],[1986.01,4.7],[1986.2,4.75],[1986.48,4.85],[1986.75,4.88],[1986.92,4.8],[1987.07,4.7],[1987.31,4.82],[1987.5,4.88],[1987.74,4.88],[1987.96,4.82],[1988.15,4.85],[1988.37,5.0],[1988.55,5.24],[1988.74,5.25],[1988.9,5.2],[1989.07,4.97],[1989.25,5.24],[1989.44,5.26],[1989.6,5.32],[1989.72,5.38],[1989.84,5.32],[1989.92,4.65],[1990.09,4.7],[1990.27,4.85],[1990.55,5.09],[1990.74,5.21],[1990.92,5.24],[1991.01,4.32],[1991.29,4.68],[1991.48,4.82],[1991.7,4.9],[1991.88,4.8],[1991.99,3.67],[1992.2,3.85],[1992.4,4.03],[1992.59,4.17],[1992.7,4.14],[1992.77,3.35],[1992.88,3.9],[1992.96,4.2],[1993.05,3.5],[1993.14,3.46],[1993.42,3.57],[1993.7,3.54],[1993.98,3.52],[1994.25,3.64],[1994.53,3.82],[1994.72,3.88],[1994.85,4.53],[1994.92,4.1],[1994.99,5.5],[1995.1,5.2],[1995.18,4.79],[1995.37,4.38],[1995.51,4.23],[1995.7,4.25],[1995.92,4.17],[1996.11,4.28],[1996.38,4.35],[1996.62,4.38],[1996.75,4.26],[1997.03,4.27],[1997.31,4.35],[1997.59,4.4],[1997.87,4.35],[1998.14,4.33],[1998.4,4.33],[1998.61,4.36],[1998.85,4.32],[1999.07,4.33],[1999.35,4.4],[1999.62,4.45],[1999.82,4.4],[1999.99,4.5],[2000.27,4.56],[2000.51,4.62],[2000.74,4.63],[2000.92,4.54],[2001.07,4.35],[2001.29,4.41],[2001.51,4.53],[2001.7,4.54],[2001.88,4.2],[2002.12,4.23],[2002.37,4.38],[2002.62,4.5],[2002.72,4.45],[2002.81,3.91],[2002.92,3.46],[2003.11,3.35],[2003.33,3.41],[2003.55,3.48]];

// ---- helpers ----
const toDays = y => (y - axisStartYear) * 365.25;
const toXY = arr => arr.map(p => [toDays(p[0]), p[1]]);
function fmtDate(d) {
  const t = new Date(Date.UTC(axisStartYear, 0, 1) + Math.round(d) * 86400000);
  return (t.getUTCMonth() + 1) + '/' + t.getUTCDate() + '/' + t.getUTCFullYear();
}
const FONT = 'Lato';
const TXT = {fontFamily: FONT, fontSize: 24, color: '#000'};
const BLUE = '#4472C4', RED = '#C00000', BLACK = '#000000';
const legendBase = {orient: 'vertical', top: 870, height: 110, itemWidth: 59, itemHeight: 14, itemGap: 26,
  selectedMode: false, textStyle: TXT, itemStyle: {opacity: 0}, padding: 0};

const chart = echarts.init(document.getElementById('chart'), null, {renderer: 'canvas'});
chart.setOption({
  animation: false,
  backgroundColor: '#ffffff',
  textStyle: {fontFamily: FONT},
  grid: {left: 98, right: 92, top: 17, bottom: 137, containLabel: false, outerBoundsMode: 'none'},
  legend: [
    Object.assign({}, legendBase, {left: 247, data: [
      {name: seriesNames[0], lineStyle: {color: BLUE, width: 3, type: 'solid'}},
      {name: seriesNames[2], lineStyle: {color: RED, width: 3, type: [8, 4]}}
    ]}),
    Object.assign({}, legendBase, {left: 1017, data: [
      {name: seriesNames[1], lineStyle: {color: RED, width: 3, type: 'solid'}},
      {name: seriesNames[3], lineStyle: {color: BLACK, width: 5, type: [17, 14]}}
    ]})
  ],
  xAxis: [
    { // yearly minor gridlines
      type: 'value', min: 0, max: axisMaxDays, interval: minorIntervalDays, position: 'bottom',
      axisLine: {show: false}, axisTick: {show: false}, axisLabel: {show: false},
      splitLine: {show: true, lineStyle: {color: '#eeeeee', width: 1.5}}
    },
    { // main date axis
      type: 'value', min: 0, max: axisMaxDays, interval: majorIntervalDays, position: 'bottom',
      axisLine: {show: true, onZero: false, lineStyle: {color: '#000', width: 2}},
      axisTick: {show: false},
      axisLabel: {show: true, margin: 22, fontFamily: FONT, fontSize: 24, color: '#000',
        showMaxLabel: false,
        formatter: v => (Math.abs(v % majorIntervalDays) < 1e-6 ? fmtDate(v) : '')},
      splitLine: {show: true, lineStyle: {color: '#d9d9d9', width: 1.5}}
    },
    { // top frame
      type: 'value', min: 0, max: axisMaxDays, position: 'top',
      axisLine: {show: true, onZero: false, lineStyle: {color: '#000', width: 2}},
      axisTick: {show: false}, axisLabel: {show: false}, splitLine: {show: false}
    }
  ],
  yAxis: [
    {
      type: 'value', min: leftAxisMin, max: leftAxisMax, interval: leftAxisStep, position: 'left',
      name: leftAxisTitle, nameLocation: 'middle', nameGap: 60, nameMoveOverlap: false,
      nameTextStyle: {fontFamily: FONT, fontSize: 23, fontWeight: 'bold', color: '#000'},
      axisLine: {show: true, onZero: false, lineStyle: {color: '#000', width: 2}},
      axisTick: {show: false},
      axisLabel: {margin: 24, fontFamily: FONT, fontSize: 24, color: '#000'},
      splitLine: {show: true, lineStyle: {color: '#d9d9d9', width: 1.5}}
    },
    {
      type: 'value', min: rightAxisMin, max: rightAxisMax, interval: rightAxisStep, position: 'right',
      name: rightAxisTitle, nameLocation: 'middle', nameGap: 54, nameMoveOverlap: false,
      nameTextStyle: {fontFamily: FONT, fontSize: 24, fontWeight: 'bold', color: '#000'},
      axisLine: {show: true, onZero: false, lineStyle: {color: '#bfbfbf', width: 1.5}},
      axisTick: {show: true, inside: false, length: 9, lineStyle: {color: '#bfbfbf', width: 1.5}},
      axisLabel: {margin: 24, fontFamily: FONT, fontSize: 24, color: '#000'},
      splitLine: {show: false}
    }
  ],
  graphic: [
    {type: 'rect', z: 100, shape: {x: 238, y: 24, width: 444, height: 141},
     style: {fill: '#ffffff', stroke: '#bfbfbf', lineWidth: 1.5}},
    {type: 'text', z: 101, x: 255, y: 33,
     style: {text: noteLines.join('\n'), fontFamily: FONT, fontSize: 24, lineHeight: 30, fill: '#000', verticalAlign: 'top'}}
  ],
  series: [
    {name: seriesNames[0], type: 'line', xAxisIndex: 1, yAxisIndex: 0, data: toXY(inflow),
     symbol: 'none', showSymbol: false, z: 2, color: BLUE,
     lineStyle: {color: BLUE, width: 3, join: 'round'}},
    {name: seriesNames[1], type: 'line', xAxisIndex: 1, yAxisIndex: 1, data: toXY(noSettling),
     symbol: 'none', showSymbol: false, z: 3, color: RED,
     lineStyle: {color: RED, width: 3.2, join: 'round'}},
    {name: seriesNames[2], type: 'line', xAxisIndex: 1, yAxisIndex: 1, data: toXY(someSettling),
     symbol: 'none', showSymbol: false, z: 4, color: RED,
     lineStyle: {color: RED, width: 3, type: [8, 4]}},
    {name: seriesNames[3], type: 'line', xAxisIndex: 1, yAxisIndex: 1,
     data: [[toDays(standardSpan[0]), standardValue], [toDays(standardSpan[1]), standardValue]],
     symbol: 'none', showSymbol: false, z: 5, color: BLACK,
     lineStyle: {color: BLACK, width: 5, type: [17, 14]}}
  ]
});
</script></body></html>
